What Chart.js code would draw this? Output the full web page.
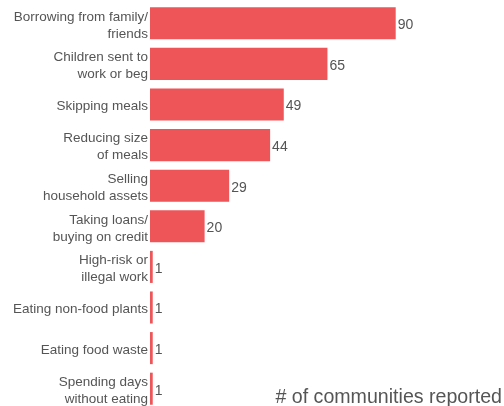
<!DOCTYPE html>
<html>
<head>
<meta charset="utf-8">
<script src="https://cdn.jsdelivr.net/npm/chart.js@4/dist/chart.umd.min.js"></script>
<style>
  html, body { margin: 0; padding: 0; background: #fff; overflow: hidden; }
  #wrap { position: relative; width: 504px; height: 409px; }
  #note { position: absolute; right: 2px; top: 386px; font: 19.6px "Liberation Sans", Arial, sans-serif; line-height: 20px; color: #555; white-space: nowrap; }
</style>
</head>
<body>
<div id="wrap">
  <canvas id="c"></canvas>
  <div id="note"># of communities reported</div>
</div>
<script>
const categories = [
  ["Borrowing from family/", "friends"],
  ["Children sent to", "work or beg"],
  "Skipping meals",
  ["Reducing size", "of meals"],
  ["Selling", "household assets"],
  ["Taking loans/", "buying on credit"],
  ["High-risk or", "illegal work"],
  "Eating non-food plants",
  "Eating food waste",
  ["Spending days", "without eating"]
];
const communities = [90, 65, 49, 44, 29, 20, 1, 1, 1, 1];
const axisMax = 100;

const valueLabels = {
  id: 'valueLabels',
  afterDatasetsDraw(chart) {
    const ctx = chart.ctx;
    const meta = chart.getDatasetMeta(0);
    ctx.save();
    ctx.font = '14px "Liberation Sans", Arial, sans-serif';
    ctx.fillStyle = '#555';
    ctx.textAlign = 'left';
    ctx.textBaseline = 'middle';
    meta.data.forEach((bar, i) => {
      ctx.fillText(String(communities[i]), bar.x + 2, bar.y + 2);
    });
    ctx.restore();
  }
};

const shiftTickLabels = {
  id: 'shiftTickLabels',
  beforeDraw(chart) {
    const s = chart.scales.y;
    if (!s || typeof s.getLabelItems !== 'function') return;
    const items = s.getLabelItems(chart.chartArea);
    if (items && !items._shifted) {
      items.forEach(it => {
        if (it.options && it.options.translation) it.options.translation[1] += 2;
      });
      items._shifted = true;
    }
  }
};

new Chart(document.getElementById('c'), {
  type: 'bar',
  data: {
    labels: categories,
    datasets: [{
      data: communities,
      backgroundColor: '#EE5559',
      borderWidth: 0,
      barPercentage: 0.79,
      categoryPercentage: 1.0
    }]
  },
  options: {
    indexAxis: 'y',
    responsive: true,
    maintainAspectRatio: false,
    animation: false,
    layout: { padding: { left: 0, top: 3, right: 81, bottom: 0 } },
    plugins: { legend: { display: false }, tooltip: { enabled: false } },
    scales: {
      x: { display: false, min: 0, max: axisMax },
      y: {
        grid: { display: false, drawTicks: false },
        border: { display: false },
        ticks: {
          padding: 2,
          color: '#555',
          font: { family: '"Liberation Sans", Arial, sans-serif', size: 13.5, lineHeight: 1.26 }
        },
        afterFit(scale) {
          scale.width = 150;
          scale.paddingTop = 0;
          scale.paddingBottom = 0;
        }
      }
    }
  },
  plugins: [valueLabels, shiftTickLabels]
});
</script>
</body>
</html>
